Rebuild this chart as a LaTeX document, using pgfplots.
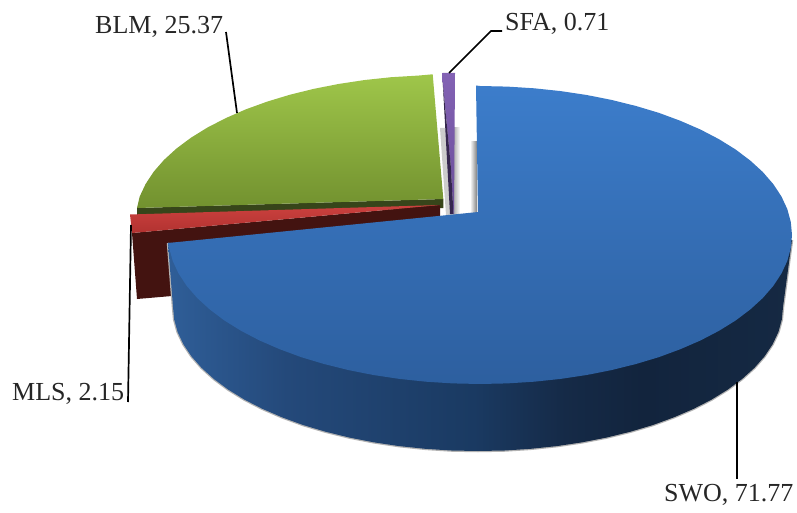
\documentclass[border=0pt]{standalone}
\usepackage{fontspec}
\setmainfont{Liberation Serif}
\usepackage{pgfplots}
\usepackage{pgfplotstable}
\pgfplotsset{compat=1.18}
\definecolor{blueT}{HTML}{3C7DCB}
\definecolor{blueB}{HTML}{2D5F9F}
\definecolor{wallA}{HTML}{2F5E98}
\definecolor{wallB}{HTML}{24497A}
\definecolor{wallC}{HTML}{1A3A62}
\definecolor{wallD}{HTML}{152A47}
\definecolor{wallE}{HTML}{12243D}
\definecolor{wallF}{HTML}{152943}
\definecolor{greenT}{HTML}{9FC64A}
\definecolor{greenB}{HTML}{72912F}
\definecolor{greenD}{HTML}{37451A}
\definecolor{redT}{HTML}{CB413E}
\definecolor{redB}{HTML}{B23230}
\definecolor{redD}{HTML}{431310}
\definecolor{purT}{HTML}{8362B4}
\definecolor{purB}{HTML}{6B4E9A}
\definecolor{purD}{HTML}{35264F}
\pgfdeclarehorizontalshading{wallshade}{100bp}{
    color(0bp)=(wallA); color(25bp)=(wallA); color(34.5bp)=(wallB); color(49.5bp)=(wallC);
    color(56.8bp)=(wallD); color(63.1bp)=(wallE); color(75bp)=(wallF); color(100bp)=(wallF)}
% outer wall of the big slice
\pgfplotstableread{
x y
792 240
783 307
781.8 319.6
778.4 332
772.6 344.3
764.6 356.3
754.4 367.9
742.1 379
727.8 389.6
711.6 399.6
693.7 408.8
674 417.3
653 425
630.5 431.7
606.9 437.5
582.3 442.3
556.9 446.1
530.9 448.8
504.6 450.5
478 451
451.4 450.5
425.1 448.8
399.1 446.1
373.7 442.3
349.1 437.5
325.5 431.7
303 425
282 417.3
262.3 408.8
244.4 399.6
228.2 389.6
213.9 379
201.6 367.9
191.4 356.3
183.4 344.3
177.6 332
174.2 319.6
173 307
168 243
}\wall
% top face of the big slice
\pgfplotstableread{
x y
478 212
476 85.5
480 86
507.2 86.6
534.2 88.3
560.7 91.1
586.7 95
611.9 100
636 106
659 112.9
680.6 120.9
700.6 129.6
719 139.2
735.6 149.5
750.2 160.5
762.8 172
773.2 184
781.4 196.4
787.3 209.1
790.8 222
792 235
790.8 248
787.3 260.9
781.4 273.6
773.2 286
762.8 298
750.2 309.5
735.6 320.5
719 330.8
700.6 340.4
680.6 349.1
659 357.1
636 364
611.9 370
586.7 375
560.7 378.9
534.2 381.7
507.2 383.4
480 384
452.8 383.4
425.8 381.7
399.3 378.9
373.3 375
348.1 370
324 364
301 357.1
279.4 349.1
259.4 340.4
241 330.8
224.4 320.5
209.8 309.5
197.2 298
186.8 286
178.6 273.6
172.7 260.9
169.2 248
168 243
}\bluetop
\begin{document}
\begin{tikzpicture}
\useasboundingbox (0,0) rectangle (797pt,513pt);
\begin{axis}[
    at={(0,0)}, anchor=south west,
    width=797pt, height=513pt,
    scale only axis,
    xmin=0, xmax=797, ymin=0, ymax=513,
    y dir=reverse,
    hide axis,
    clip=true
]
% shadows in the gaps
\addplot[draw=none, fill=black!20] coordinates {(440,128) (450,128) (454,215) (446,215)};
\addplot[draw=none, shade, left color=black!30, right color=white] coordinates {(454,128) (460,128) (460,215) (454,215)};
\addplot[draw=none, shade, left color=white, right color=black!50] coordinates {(470,142) (477,142) (477,214) (470,214)};
% BLM
\addplot[draw=none, fill=greenD] coordinates {(137,208) (443.3,199) (443.3,208) (137,218)};
\addplot[draw=none, shade, top color=greenT, bottom color=greenB] coordinates {
    (432.7,74.3) (418,75.6) (391.2,77.2) (364.8,80) (339,83.9) (314,88.8) (290,94.7) (267.2,101.6) (245.7,109.4)
    (225.8,118.1) (207.5,127.5) (191,137.7) (176.5,148.5) (164,159.9) (153.7,171.7) (145.6,184) (139.7,196.5) (137,208) (443.3,199)};
% SFA
\addplot[draw=none, shade, top color=purT, bottom color=purB] coordinates {(442.7,73) (455,73) (454,214) (453.5,214) (450.7,165) (442.7,82)};
\addplot[draw=none, fill=purD] coordinates {(442.7,82) (450.7,165) (453.5,214) (450,214)};
% MLS
\addplot[draw=none, fill=redD] coordinates {(132,233) (440,205) (440,218) (172,296) (137,299)};
\addplot[draw=none, shade, top color=redT, bottom color=redB] coordinates {(130,214.5) (440,205) (132,233)};
% SWO
\addplot[draw=black!30, line width=2.5pt] table[x=x, y=y] {\wall};
\addplot[draw=none, shading=wallshade] table[x=x, y=y] {\wall};
\addplot[draw=none, shade, top color=blueT, bottom color=blueB] table[x=x, y=y] {\bluetop};
% leader lines
\addplot[black, line width=1.7pt] coordinates {(226,32) (237,113)};
\addplot[black, line width=1.7pt] coordinates {(449,73) (491,31) (502,31)};
\addplot[black, line width=1.7pt] coordinates {(737,382) (737,479)};
\addplot[black, line width=1.7pt] coordinates {(131,225) (128,402)};
% labels
\node[anchor=base west, text=black!85, inner sep=0pt, font=\fontsize{26}{30}\selectfont] at (axis cs:95,34) {BLM, 25.37};
\node[anchor=base west, text=black!85, inner sep=0pt, font=\fontsize{26}{30}\selectfont] at (axis cs:505,31) {SFA, 0.71};
\node[anchor=base west, text=black!85, inner sep=0pt, font=\fontsize{26}{30}\selectfont] at (axis cs:12,400) {MLS, 2.15};
\node[anchor=base west, text=black!85, inner sep=0pt, font=\fontsize{26}{30}\selectfont] at (axis cs:664,501) {SWO, 71.77};
\end{axis}
\end{tikzpicture}
\end{document}
